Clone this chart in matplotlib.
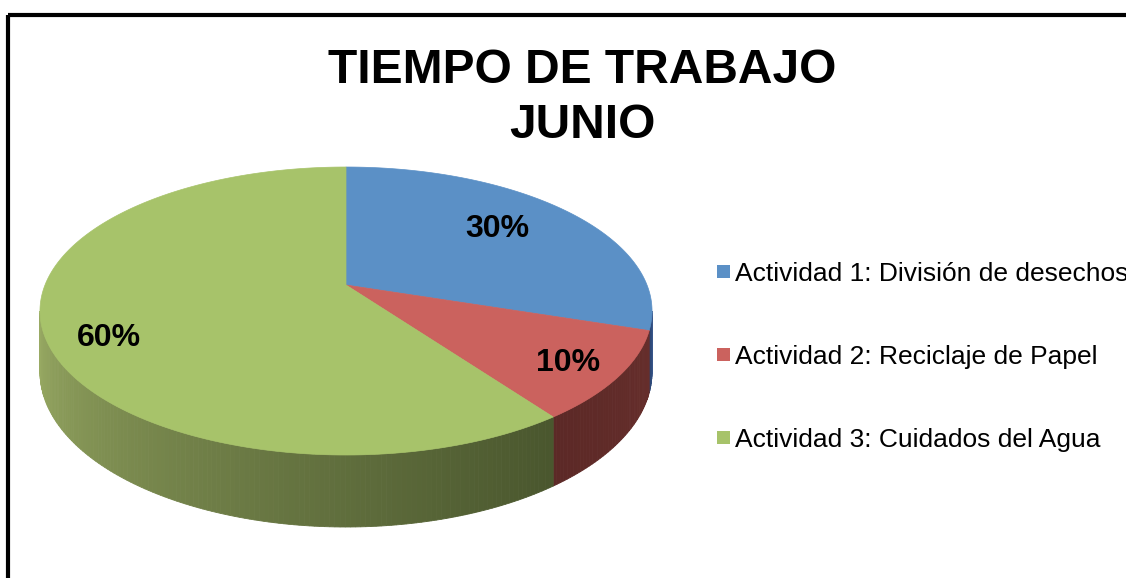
import numpy as np
import matplotlib
matplotlib.use("Agg")
import matplotlib.pyplot as plt
from matplotlib.patches import Polygon, Rectangle

plt.rcParams['font.family'] = ['Liberation Sans', 'DejaVu Sans']

title = "TIEMPO DE TRABAJO\nJUNIO"
labels = ["Actividad 1: División de desechos",
          "Actividad 2: Reciclaje de Papel",
          "Actividad 3: Cuidados del Agua"]
values = [30, 10, 60]
top_colors = ["#5B90C6", "#CB625E", "#A7C36A"]
side_dark = [(0.17, 0.27, 0.45), (0.36, 0.16, 0.15), (0.29, 0.34, 0.18)]
side_light = [(0.22, 0.34, 0.55), (0.40, 0.18, 0.17), (0.60, 0.67, 0.39)]

# pie geometry in pixels (perspective projection of a disc)
X0, Y0 = 346, 285
A, B, K = 301, 139.3, 0.1806
DEPTH = 59


def proj(u, v, d=0.0):
    s = 1.0 / (1.0 + K * v)
    return X0 + A * u * s, Y0 - B * v * s + DEPTH * s * d


W, H = 1126, 578
fig = plt.figure(figsize=(W / 100, H / 100), dpi=100)
ax = fig.add_axes([0, 0, 1, 1])
ax.set_xlim(0, W)
ax.set_ylim(H, 0)
ax.axis('off')

# frame (runs off the right and bottom edges)
ax.add_patch(Rectangle((8, 15), 1200, 700, fill=False, lw=3, ec='black', zorder=1))

fr = np.array(values, dtype=float) / sum(values)
cum = np.concatenate([[0], np.cumsum(fr)]) * 360.0

t_right = np.degrees(np.arccos(-K))
t_left = 360 - t_right

# sides
for i in range(len(values)):
    a0, a1 = max(cum[i], t_right), min(cum[i + 1], t_left)
    if a1 <= a0:
        continue
    n = max(2, int((a1 - a0) / 0.8))
    ts = np.linspace(a0, a1, n + 1)
    for j in range(n):
        t1, t2 = np.radians(ts[j]), np.radians(ts[j + 1])
        p1 = proj(np.sin(t1), np.cos(t1))
        p2 = proj(np.sin(t2), np.cos(t2))
        p3 = proj(np.sin(t2), np.cos(t2), 1)
        p4 = proj(np.sin(t1), np.cos(t1), 1)
        f = (ts[j] - a0) / max(a1 - a0, 1e-9)
        if i == 2:
            f = f ** 1.1
        else:
            f = 1 - f
        c = tuple(side_dark[i][k] + (side_light[i][k] - side_dark[i][k]) * f for k in range(3))
        ax.add_patch(Polygon([p1, p2, p3, p4], closed=True, fc=c, ec=c, lw=0.6, zorder=2))

# tops
for i in range(len(values)):
    ts = np.radians(np.linspace(cum[i], cum[i + 1], 200))
    pts = [proj(0, 0)] + [proj(np.sin(t), np.cos(t)) for t in ts]
    ax.add_patch(Polygon(pts, closed=True, fc=top_colors[i], ec=top_colors[i], lw=0.5, zorder=3))

# percentage labels
label_r = [0.65, 0.82, 0.80]
label_dy = [-6, 4, 17]
for i in range(len(values)):
    t = np.radians((cum[i] + cum[i + 1]) / 2)
    x, y = proj(label_r[i] * np.sin(t), label_r[i] * np.cos(t))
    ax.text(x + 3, y + label_dy[i], f"{values[i]}%", ha='center', va='center',
            fontsize=23, fontweight='bold', zorder=5)

# title
ax.text(582, 98, title, ha='center', va='center', fontsize=34.5,
        fontweight='bold', linespacing=1.28, zorder=5)

# legend
leg_y = [274, 357, 440]
for i, lab in enumerate(labels):
    ax.add_patch(Rectangle((717, leg_y[i] - 9), 13, 13, fc=top_colors[i], ec='none', zorder=5))
    ax.text(735, leg_y[i], lab, ha='left', va='center', fontsize=19, zorder=5)

fig.savefig("out.png", dpi=100)
